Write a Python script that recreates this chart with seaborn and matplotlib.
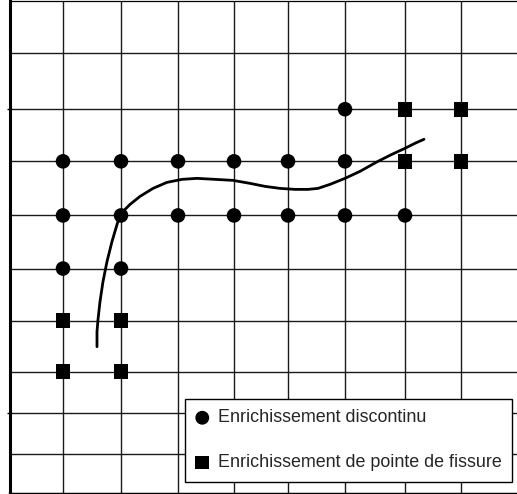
import matplotlib
matplotlib.use("Agg")
import matplotlib.pyplot as plt
import seaborn as sns
import pandas as pd

# grid line positions (chart units)
x_cols = [63, 121, 178, 234, 288, 345, 405, 461]
y_rows = [52, 108, 160, 214, 267, 319, 370, 411, 452]

# discontinuous enrichment nodes (circles)
circ_x = [63, 121, 178, 234, 288, 345,
          345,
          63, 121, 178, 234, 288, 345, 405,
          63, 121]
circ_y = [160, 160, 160, 160, 160, 160,
          108,
          214, 214, 214, 214, 214, 214, 214,
          267, 267]

# crack-tip enrichment nodes (squares)
sq_x = [405, 461, 405, 461, 63, 121, 63, 121]
sq_y = [108, 108, 160, 160, 319, 319, 370, 370]

# crack path
crack_x = [97, 97, 98, 100, 103, 107, 112, 120, 130, 140, 153, 167, 182, 197,
           215, 233, 250, 265, 280, 295, 308, 318, 330, 345, 360, 378, 392, 405, 415, 424]
crack_y = [345, 330, 318, 300, 280, 260, 240, 213, 203, 195, 187, 181, 178, 177,
           178, 179, 182, 185, 187, 188, 188, 187, 183, 177, 170, 160, 153, 147, 142, 138]

label_circ = "Enrichissement discontinu"
label_sq = "Enrichissement de pointe de fissure"

sns.set_theme(style="white")
plt.rcParams['font.family'] = ['Liberation Sans', 'DejaVu Sans']

W, H = 517, 494
fig = plt.figure(figsize=(W / 100, H / 100), dpi=100)
ax = fig.add_axes([10 / W, 0 / H, (W - 10) / W, 493 / H])
ax.set_xlim(10, 517)
ax.set_ylim(492, 0)

for xv in x_cols:
    ax.axvline(xv, color="#1a1a1a", lw=1.0, zorder=1)
for yv in y_rows:
    ax.axhline(yv, color="#1a1a1a", lw=1.0, zorder=1)

df_c = pd.DataFrame({"x": circ_x, "y": circ_y})
df_s = pd.DataFrame({"x": sq_x, "y": sq_y})
df_k = pd.DataFrame({"x": crack_x, "y": crack_y})

sns.lineplot(data=df_k, x="x", y="y", sort=False, estimator=None, color="black",
             lw=2.0, ax=ax, zorder=3)
sns.scatterplot(data=df_c, x="x", y="y", marker="o", s=110, color="black",
                edgecolor="none", ax=ax, zorder=4, label=label_circ)
sns.scatterplot(data=df_s, x="x", y="y", marker="s", s=110, color="black",
                edgecolor="none", ax=ax, zorder=4, label=label_sq)

ax.set_xticks([])
ax.set_yticks([108, 411])
ax.set_yticklabels([])
ax.tick_params(axis="y", left=True, length=2.5, width=1, color="black", direction="out")
ax.set_xlabel("")
ax.set_ylabel("")

ax.spines["right"].set_visible(False)
ax.spines["left"].set_linewidth(2.2)
ax.spines["bottom"].set_linewidth(2.5)
ax.spines["top"].set_linewidth(0.9)
for side in ["left", "bottom", "top"]:
    ax.spines[side].set_color("black")

leg = ax.legend(loc="lower right", bbox_to_anchor=(512, 480), bbox_transform=ax.transData,
                borderaxespad=0, frameon=True, fancybox=False, framealpha=1,
                edgecolor="black", fontsize=12.9, labelspacing=1.55, handletextpad=0.5,
                borderpad=0.6, handlelength=0.7, markerscale=0.95)
leg.get_frame().set_linewidth(1.0)
leg.set_zorder(10)

fig.savefig("out.png", dpi=100)
